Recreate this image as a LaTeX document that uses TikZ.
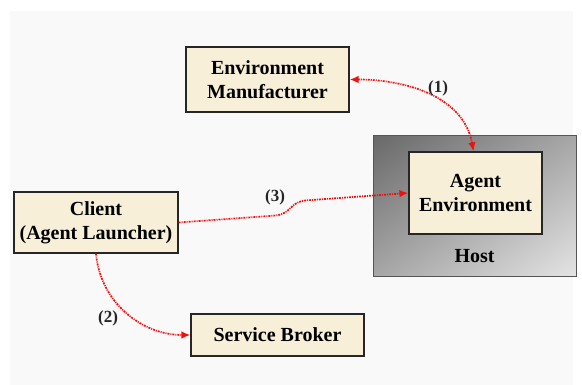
\documentclass[tikz,border=0pt]{standalone}
\usepackage{fontspec}
\setmainfont{Liberation Serif}
\usetikzlibrary{arrows.meta,shadows}
\definecolor{boxfill}{HTML}{F8EFD9}
\definecolor{pagebg}{HTML}{F9F9F9}
\definecolor{hostdark}{HTML}{4E4E4E}
\definecolor{hostlight}{HTML}{FFFFFF}
\definecolor{hostedge}{HTML}{555555}
\definecolor{linkred}{HTML}{F01010}
% linear fade over the full height, light at the bottom, dark at the top
\pgfdeclareverticalshading{hostfade}{100bp}{color(0bp)=(hostlight); color(100bp)=(hostdark)}
\tikzset{
  unitbox/.style={draw=black!85, line width=1.2pt, fill=boxfill, align=center,
    font=\fontsize{20}{24}\selectfont\bfseries, inner sep=0pt,
    drop shadow={shadow xshift=1.3pt, shadow yshift=-1.3pt, fill=black!60, opacity=1}},
  steplabel/.style={font=\fontsize{17}{19}\selectfont\bfseries, text=black!85},
  link/.style={draw=linkred, line width=1.7pt,
    dash pattern=on 2pt off 1pt on 1pt off 1pt,
    arrows={-{Latex[length=9pt,width=7.5pt]}}}
}
\begin{document}
\begin{tikzpicture}[x=1pt,y=1pt]
  \useasboundingbox (0,0) rectangle (582,385);
  % page background
  \fill[pagebg] (10,0) rectangle (573,374);

  % host machine with its agent environment
  \shade[shading=hostfade, shading angle=35] (373,249) rectangle (576,108);
  \draw[hostedge, line width=1pt] (373,249) rectangle (576,108);
  \node[unitbox, minimum width=133pt, minimum height=82pt] (agent) at (475.5,192) {Agent\\Environment};
  \node[font=\fontsize{20}{24}\selectfont\bfseries] (host) at (474.5,129) {Host};

  \node[unitbox, minimum width=163pt, minimum height=65pt] (manuf) at (267.5,305.5) {Environment\\Manufacturer};
  \node[unitbox, minimum width=164pt, minimum height=61pt] (client) at (96,162.5) {Client\\(Agent Launcher)};
  \node[unitbox, minimum width=173pt, minimum height=42pt] (broker) at (277.5,50) {Service Broker};

  % interactions
  \draw[link, arrows={{Latex[length=9pt,width=7.5pt]}-{Latex[length=9pt,width=7.5pt]}}]
    (manuf.east) to[out=0, in=100] ([xshift=-2pt]agent.north);
  \draw[link, rounded corners=7pt] (client.east) -- (283,170) -- (298,184) -- (agent.west);
  \draw[link] (client.south) to[out=-85, in=180] (broker.west);

  \node[steplabel] (l1) at (438,297) {(1)};
  \node[steplabel] (l3) at (275,188) {(3)};
  \node[steplabel] (l2) at (108,67) {(2)};
\end{tikzpicture}
\end{document}
